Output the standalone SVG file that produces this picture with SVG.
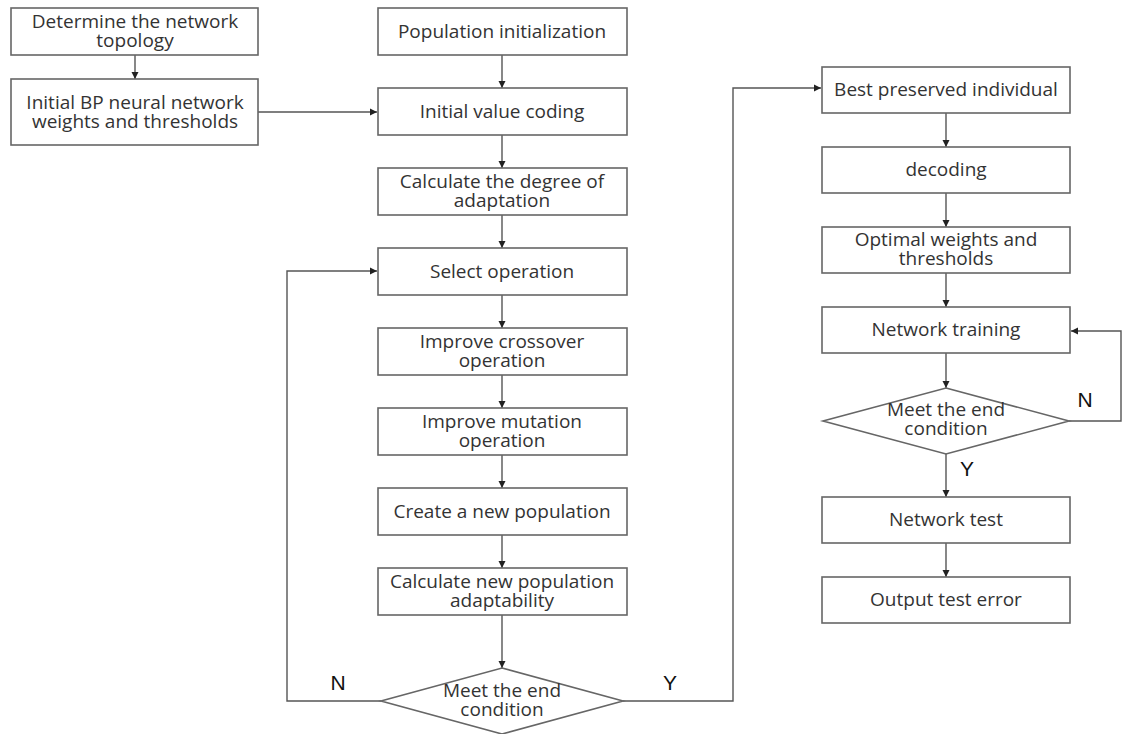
<svg xmlns="http://www.w3.org/2000/svg" width="1122" height="734" viewBox="0 0 1122 734">
<style>
.box{fill:#fff;stroke:#666;stroke-width:1.6}
.t{font-family:"Open Sans",sans-serif;font-size:19px;fill:#333;text-anchor:middle}
.lbl{font-family:"Liberation Sans",sans-serif;font-size:21px;fill:#111;text-anchor:middle}
.c{fill:none;stroke:#555;stroke-width:1.4}
</style>
<defs>
<marker id="ah" markerWidth="8" markerHeight="8" refX="7" refY="4" orient="auto" markerUnits="userSpaceOnUse">
<path d="M0,0.5 L7,4 L0,7.5 Z" fill="#222"/>
</marker>
</defs>
<rect width="1122" height="734" fill="#fff"/>
<g id="connectors">
<path class="c" d="M135,55 V79" marker-end="url(#ah)"/>
<path class="c" d="M258,112 H377" marker-end="url(#ah)"/>
<path class="c" d="M502,55 V88" marker-end="url(#ah)"/>
<path class="c" d="M502,135 V168" marker-end="url(#ah)"/>
<path class="c" d="M502,215 V248" marker-end="url(#ah)"/>
<path class="c" d="M502,295 V328" marker-end="url(#ah)"/>
<path class="c" d="M502,375 V408" marker-end="url(#ah)"/>
<path class="c" d="M502,455 V488" marker-end="url(#ah)"/>
<path class="c" d="M502,535 V568" marker-end="url(#ah)"/>
<path class="c" d="M502,615 V668" marker-end="url(#ah)"/>
<path class="c" d="M381,701 H287 V271 H377" marker-end="url(#ah)"/>
<path class="c" d="M623,701 H733 V88 H821" marker-end="url(#ah)"/>
<path class="c" d="M946,113 V147" marker-end="url(#ah)"/>
<path class="c" d="M946,193 V227" marker-end="url(#ah)"/>
<path class="c" d="M946,273 V307" marker-end="url(#ah)"/>
<path class="c" d="M946,353 V388" marker-end="url(#ah)"/>
<path class="c" d="M1069,421 H1121 V331 H1071" marker-end="url(#ah)"/>
<path class="c" d="M946,453 V497" marker-end="url(#ah)"/>
<path class="c" d="M946,543 V577" marker-end="url(#ah)"/>
<text class="lbl" x="338" y="690">N</text>
<text class="lbl" x="670" y="690">Y</text>
<text class="lbl" x="1085" y="407">N</text>
<text class="lbl" x="967" y="476">Y</text>
</g>
<g id="n-topology"><rect class="box" x="11" y="8" width="247" height="47"/><text class="t" x="135" y="28">Determine the network</text><text class="t" x="135" y="47">topology</text></g>
<g id="n-initial-bp"><rect class="box" x="11" y="79" width="247" height="66"/><text class="t" x="135" y="109">Initial BP neural network</text><text class="t" x="135" y="128">weights and thresholds</text></g>
<g id="n-pop-init"><rect class="box" x="378" y="8" width="249" height="47"/><text class="t" x="502" y="38">Population initialization</text></g>
<g id="n-coding"><rect class="box" x="378" y="88" width="249" height="47"/><text class="t" x="502" y="118">Initial value coding</text></g>
<g id="n-degree"><rect class="box" x="378" y="168" width="249" height="47"/><text class="t" x="502" y="188">Calculate the degree of</text><text class="t" x="502" y="207">adaptation</text></g>
<g id="n-select"><rect class="box" x="378" y="248" width="249" height="47"/><text class="t" x="502" y="278">Select operation</text></g>
<g id="n-crossover"><rect class="box" x="378" y="328" width="249" height="47"/><text class="t" x="502" y="348">Improve crossover</text><text class="t" x="502" y="367">operation</text></g>
<g id="n-mutation"><rect class="box" x="378" y="408" width="249" height="47"/><text class="t" x="502" y="428">Improve mutation</text><text class="t" x="502" y="447">operation</text></g>
<g id="n-newpop"><rect class="box" x="378" y="488" width="249" height="47"/><text class="t" x="502" y="518">Create a new population</text></g>
<g id="n-newadapt"><rect class="box" x="378" y="568" width="249" height="47"/><text class="t" x="502" y="588">Calculate new population</text><text class="t" x="502" y="607">adaptability</text></g>
<g id="n-end1"><polygon class="box" points="502,668 623,701 502,734 381,701"/><text class="t" x="502" y="697">Meet the end</text><text class="t" x="502" y="716">condition</text></g>
<g id="n-best"><rect class="box" x="822" y="67" width="248" height="46"/><text class="t" x="946" y="96">Best preserved individual</text></g>
<g id="n-decoding"><rect class="box" x="822" y="147" width="248" height="46"/><text class="t" x="946" y="176">decoding</text></g>
<g id="n-optimal"><rect class="box" x="822" y="227" width="248" height="46"/><text class="t" x="946" y="246">Optimal weights and</text><text class="t" x="946" y="265">thresholds</text></g>
<g id="n-training"><rect class="box" x="822" y="307" width="248" height="46"/><text class="t" x="946" y="336">Network training</text></g>
<g id="n-end2"><polygon class="box" points="946,388 1069,421 946,454 823,421"/><text class="t" x="946" y="416">Meet the end</text><text class="t" x="946" y="435">condition</text></g>
<g id="n-test"><rect class="box" x="822" y="497" width="248" height="46"/><text class="t" x="946" y="526">Network test</text></g>
<g id="n-output"><rect class="box" x="822" y="577" width="248" height="46"/><text class="t" x="946" y="606">Output test error</text></g>
</svg>
